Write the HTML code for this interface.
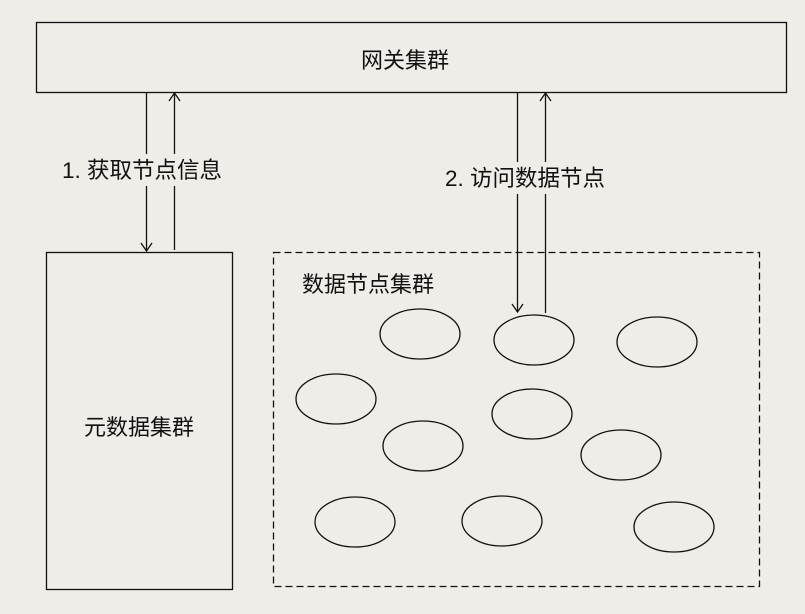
<!DOCTYPE html>
<html><head><meta charset="utf-8"><style>
html,body{margin:0;padding:0;background:#f0ece8;}
svg{display:block}
text{font-family:"Liberation Sans","Noto Sans CJK SC",sans-serif;fill:#111;}
</style></head><body>
<svg width="805" height="614" viewBox="0 0 805 614" xmlns="http://www.w3.org/2000/svg">
<rect x="0" y="0" width="805" height="614" fill="#f0ece8"/>
<g fill="none" stroke="#111" stroke-width="1.3">
<rect x="36.5" y="22.5" width="750" height="70"/>
<rect x="46.5" y="252.5" width="186" height="337"/>
<rect x="273.5" y="252.5" width="486" height="334" stroke-dasharray="7,4"/>
<line x1="146.5" y1="92" x2="146.5" y2="251"/>
<polyline points="141,243 146.5,251 152,243"/>
<line x1="174.5" y1="250" x2="174.5" y2="93"/>
<polyline points="169,101 174.5,93 180,101"/>
<line x1="517.5" y1="92" x2="517.5" y2="312"/>
<polyline points="512,304 517.5,312 523,304"/>
<line x1="545.5" y1="313" x2="545.5" y2="93"/>
<polyline points="540,101 545.5,93 551,101"/>
<ellipse cx="420" cy="334" rx="40" ry="25"/>
<ellipse cx="534" cy="340" rx="40" ry="25"/>
<ellipse cx="657" cy="342" rx="40" ry="25"/>
<ellipse cx="336" cy="399" rx="40" ry="25"/>
<ellipse cx="532" cy="414" rx="40" ry="25"/>
<ellipse cx="423" cy="446" rx="40" ry="25"/>
<ellipse cx="621" cy="455" rx="40" ry="25"/>
<ellipse cx="355" cy="522" rx="40" ry="25"/>
<ellipse cx="502" cy="521" rx="40" ry="25"/>
<ellipse cx="674" cy="527" rx="40" ry="25"/>
</g>
<rect x="60" y="154" width="166" height="32" fill="#f0ece8"/>
<rect x="443" y="162" width="168" height="32" fill="#f0ece8"/>
<text x="405" y="68" font-size="22" text-anchor="middle">网关集群</text>
<text x="62" y="178" font-size="22.5">1. 获取节点信息</text>
<text x="445" y="186" font-size="22.5">2. 访问数据节点</text>
<text x="302" y="292" font-size="22">数据节点集群</text>
<text x="139" y="435" font-size="22" text-anchor="middle">元数据集群</text>
</svg>
</body></html>
